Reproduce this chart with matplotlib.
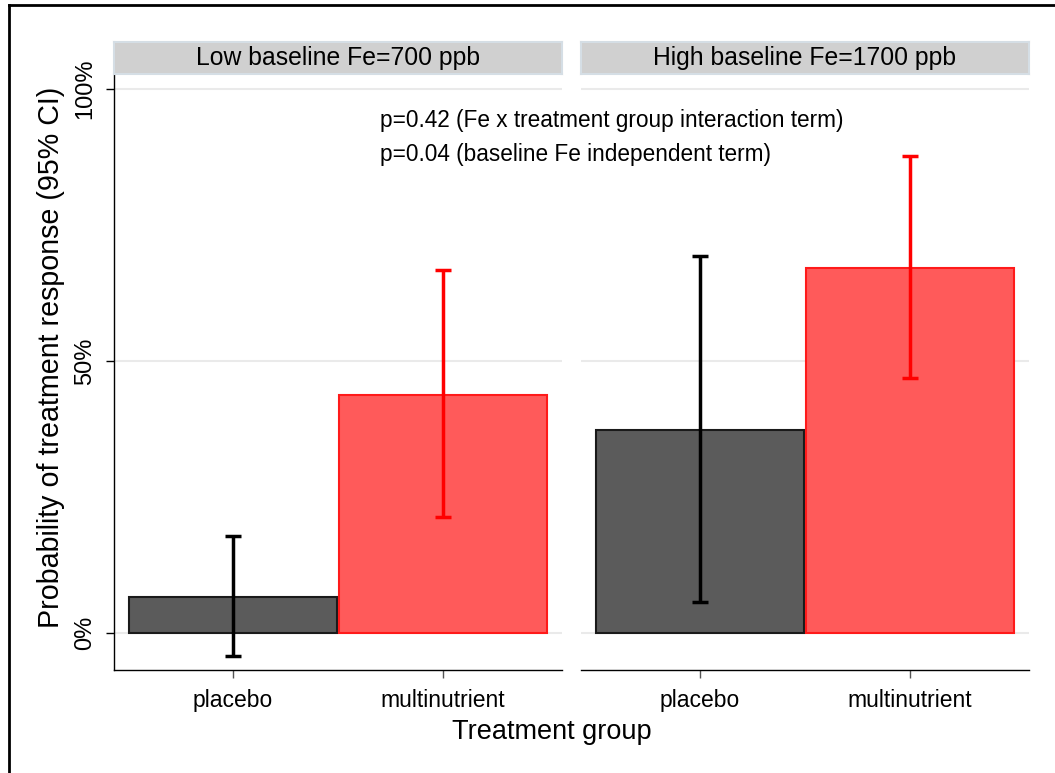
import matplotlib
matplotlib.use('Agg')
import matplotlib.pyplot as plt
import numpy as np
from matplotlib.lines import Line2D

plt.rcParams.update({
    'font.family': ['Liberation Sans', 'DejaVu Sans'],
    'font.size': 15,
})

# ── Data ──────────────────────────────────────────────────────────────
panels = ['Low baseline Fe=700 ppb', 'High baseline Fe=1700 ppb']
groups = ['placebo', 'multinutrient']
prob = [[6.6, 43.8], [37.3, 67.1]]          # % response
ci_lo = [[-4.2, 21.3], [5.7, 46.9]]
ci_hi = [[17.8, 66.7], [69.3, 87.7]]
yticks = [0, 50, 100]
ytick_labels = ['0%', '50%', '100%']
notes = ['p=0.42 (Fe x treatment group interaction term)',
         'p=0.04 (baseline Fe independent term)']

# ── Colours ───────────────────────────────────────────────────────────
FILL = ['#5b5b5b', '#ff5a5a']
EDGE = ['#1a1a1a', '#ff1a1a']
ERR = ['#000000', '#ff0000']
GRID_CLR = '#eaeaea'
STRIP_CLR = '#d0d0d0'
STRIP_EDGE = '#d5dee5'

W, H = 1055, 773
fig = plt.figure(figsize=(W / 100, H / 100), dpi=100)


def px(x0, y0, x1, y1):
    """pixel box (top-left origin) -> figure fraction rect"""
    return [x0 / W, 1 - y1 / H, (x1 - x0) / W, (y1 - y0) / H]


# outer frame (top and left only visible)
fig.add_artist(Line2D([9 / W, 9 / W], [0, 1 - 5 / H], color='black', lw=2,
                      transform=fig.transFigure))
fig.add_artist(Line2D([9 / W, 1], [1 - 5 / H, 1 - 5 / H], color='black', lw=2,
                      transform=fig.transFigure))

boxes = [(114, 562), (581, 1029)]
x = np.arange(len(groups))
axes = []
for p, (l, r) in enumerate(boxes):
    ax = fig.add_axes(px(l, 74, r, 670))
    axes.append(ax)
    for g in range(len(groups)):
        ax.bar(x[g], prob[p][g], width=0.995, color=FILL[g], edgecolor=EDGE[g],
               linewidth=1.5, zorder=3)
        ax.errorbar(x[g], prob[p][g],
                    yerr=[[prob[p][g] - ci_lo[p][g]], [ci_hi[p][g] - prob[p][g]]],
                    fmt='none', ecolor=ERR[g], elinewidth=2.5, capsize=6,
                    capthick=2.5, zorder=4)
    ax.set_xlim(-0.567, 1.567)
    ax.set_ylim(-6.8, 102.7)
    ax.set_yticks(yticks)
    for yv in yticks:
        ax.axhline(yv, color=GRID_CLR, lw=1.5, zorder=1)
    ax.set_xticks(x)
    ax.set_xticklabels(groups, fontsize=16.5)
    ax.tick_params(axis='x', length=6, width=1, color='#555555', pad=8)
    for s in ['top', 'right']:
        ax.spines[s].set_visible(False)
    ax.spines['bottom'].set_linewidth(1)
    if p == 0:
        ax.set_yticklabels(ytick_labels, rotation=90, va='center', fontsize=17)
        ax.tick_params(axis='y', length=6, width=1, pad=7)
        ax.spines['left'].set_linewidth(1)
    else:
        ax.spines['left'].set_visible(False)
        ax.tick_params(axis='y', left=False, labelleft=False)

    # header strip
    sax = fig.add_axes(px(l, 42, r, 74))
    sax.set_xticks([])
    sax.set_yticks([])
    sax.set_facecolor(STRIP_CLR)
    for s in sax.spines.values():
        s.set_color(STRIP_EDGE)
        s.set_linewidth(1.5)
    sax.text(0.5, 0.5, panels[p], ha='center', va='center', fontsize=17.8,
             transform=sax.transAxes)

axes[0].set_ylabel('Probability of treatment response (95% CI)', fontsize=20.6)
axes[0].yaxis.set_label_coords(-(114 - 65) / 448, (670 - 357) / 596)
fig.text(552 / W, 1 - 732 / H, 'Treatment group', ha='center', va='center',
         fontsize=19.5)

for i, t in enumerate(notes):
    fig.text(380 / W, 1 - (121 + 34 * i) / H, t, ha='left', va='center',
             fontsize=16.3)

fig.savefig('out.png', dpi=100, facecolor='white')
plt.close()
